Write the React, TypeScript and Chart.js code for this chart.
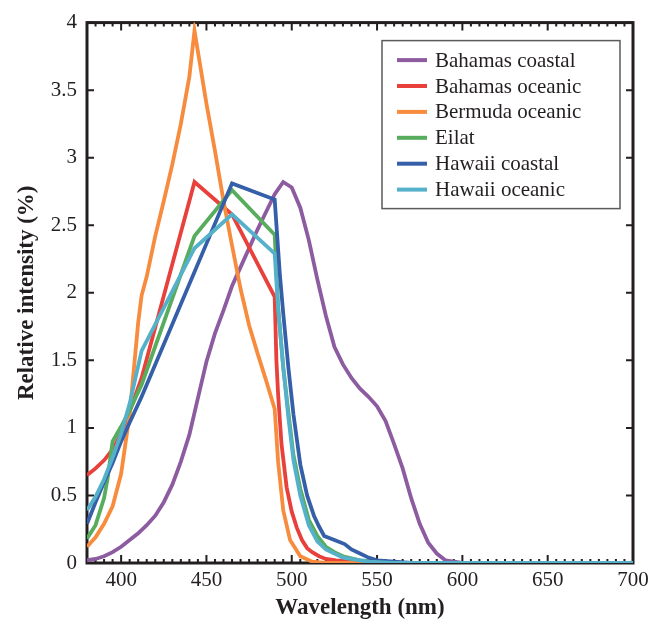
import React, { useEffect, useRef } from 'react';
import { Chart, registerables } from 'chart.js';

Chart.register(...registerables);

const FONT = "'Liberation Serif', 'Times New Roman', Times, serif";
const INK = '#231f20';

const seriesNames = ['Bahamas coastal', 'Bahamas oceanic', 'Bermuda oceanic', 'Eilat', 'Hawaii coastal', 'Hawaii oceanic'];
const seriesColors = ['#8d5ba0', '#e8403a', '#f78b3e', '#57ad5d', '#355fa9', '#55b1c9'];

const xTickValues = [400, 450, 500, 550, 600, 650, 700];
const yTickValues = [0, 0.5, 1, 1.5, 2, 2.5, 3, 3.5, 4];

const bahamasCoastalNm = [380, 385, 390, 395, 400, 405, 410, 415, 420, 425, 430, 435, 440, 445, 450, 455, 460, 465, 470, 475, 480, 485, 490, 495, 500, 505, 510, 515, 520, 525, 530, 535, 540, 545, 550, 555, 560, 565, 570, 575, 580, 585, 590, 595, 600, 700];
const bahamasCoastalVal = [0.02, 0.03, 0.05, 0.08, 0.12, 0.17, 0.22, 0.28, 0.35, 0.45, 0.58, 0.75, 0.95, 1.22, 1.49, 1.7, 1.87, 2.05, 2.19, 2.33, 2.47, 2.6, 2.73, 2.82, 2.78, 2.63, 2.39, 2.1, 1.83, 1.6, 1.47, 1.37, 1.29, 1.23, 1.16, 1.05, 0.88, 0.7, 0.48, 0.29, 0.15, 0.07, 0.02, 0.01, 0, 0];

const bahamasOceanicNm = [380, 385, 390, 395, 400, 405, 412, 443, 465, 490, 491, 492, 494, 497, 500, 503, 506, 509, 512, 516, 520, 526, 535, 550, 700];
const bahamasOceanicVal = [0.65, 0.7, 0.76, 0.84, 0.96, 1.12, 1.37, 2.82, 2.58, 1.97, 1.5, 1.25, 0.88, 0.56, 0.38, 0.26, 0.17, 0.11, 0.08, 0.05, 0.03, 0.02, 0.01, 0, 0];

const bermudaOceanicNm = [380, 385, 390, 395, 400, 405, 410, 412, 415, 420, 425, 430, 435, 440, 443, 450, 455, 460, 465, 470, 475, 480, 485, 490, 492, 495, 499, 505, 512, 520, 700];
const bermudaOceanicVal = [0.12, 0.19, 0.29, 0.42, 0.66, 1.1, 1.78, 1.98, 2.12, 2.42, 2.68, 2.95, 3.25, 3.6, 3.94, 3.4, 3.05, 2.68, 2.35, 2.03, 1.76, 1.55, 1.35, 1.14, 0.75, 0.39, 0.17, 0.05, 0.01, 0, 0];

const eilatNm = [380, 385, 390, 392, 395, 400, 405, 412, 443, 465, 490, 492, 495, 498, 501, 505, 510, 515, 520, 525, 530, 540, 550, 560, 700];
const eilatVal = [0.18, 0.28, 0.48, 0.62, 0.9, 1.01, 1.13, 1.32, 2.42, 2.76, 2.43, 1.9, 1.45, 1.12, 0.8, 0.55, 0.32, 0.2, 0.12, 0.08, 0.05, 0.02, 0.01, 0, 0];

const hawaiiCoastalNm = [380, 385, 390, 395, 400, 405, 412, 465, 490, 493, 495, 498, 501, 505, 509, 513, 516, 519, 525, 531, 535, 540, 545, 550, 560, 570, 700];
const hawaiiCoastalVal = [0.29, 0.45, 0.6, 0.74, 0.9, 1.04, 1.23, 2.81, 2.69, 2.14, 1.85, 1.45, 1.1, 0.73, 0.5, 0.35, 0.27, 0.2, 0.17, 0.14, 0.1, 0.07, 0.04, 0.02, 0.01, 0, 0];

const hawaiiOceanicNm = [380, 385, 390, 395, 400, 405, 412, 443, 465, 490, 492, 495, 498, 501, 505, 510, 515, 520, 530, 545, 560, 700];
const hawaiiOceanicVal = [0.39, 0.49, 0.62, 0.78, 0.96, 1.18, 1.57, 2.33, 2.58, 2.29, 1.88, 1.45, 1.08, 0.76, 0.5, 0.28, 0.16, 0.1, 0.04, 0.01, 0, 0];

const seriesNm = [bahamasCoastalNm, bahamasOceanicNm, bermudaOceanicNm, eilatNm, hawaiiCoastalNm, hawaiiOceanicNm];
const seriesVal = [bahamasCoastalVal, bahamasOceanicVal, bermudaOceanicVal, eilatVal, hawaiiCoastalVal, hawaiiOceanicVal];

const toPoints = (nm: number[], val: number[]) => nm.map((x, i) => ({ x, y: val[i] }));

const frameTicksPlugin = {
  id: 'frameTicks',
  beforeDatasetsDraw(chart: any) {
    const { ctx, chartArea: a, scales } = chart;
    const xs = scales.x;
    const ys = scales.y;
    ctx.save();
    ctx.strokeStyle = INK;
    ctx.lineWidth = 2;
    ctx.beginPath();
    for (let v = 380; v <= 700; v += 5) {
      const px = xs.getPixelForValue(v);
      const len = xTickValues.includes(v) ? 8 : 4;
      ctx.moveTo(px, a.bottom);
      ctx.lineTo(px, a.bottom - len);
      ctx.moveTo(px, a.top);
      ctx.lineTo(px, a.top + len);
    }
    for (const v of yTickValues) {
      const py = ys.getPixelForValue(v);
      ctx.moveTo(a.left, py);
      ctx.lineTo(a.left + 7, py);
      ctx.moveTo(a.right, py);
      ctx.lineTo(a.right - 7, py);
    }
    ctx.stroke();
    ctx.lineWidth = 3;
    ctx.strokeRect(a.left, a.top, a.right - a.left, a.bottom - a.top);
    ctx.restore();
  },
};

const boxLegendPlugin = {
  id: 'boxLegend',
  afterDraw(chart: any) {
    const { ctx, chartArea: a } = chart;
    const left = a.right - 251;
    const top = a.top + 18;
    const w = 238;
    const h = 168;
    ctx.save();
    ctx.fillStyle = '#ffffff';
    ctx.fillRect(left, top, w, h);
    ctx.strokeStyle = '#5a5a5a';
    ctx.lineWidth = 1.5;
    ctx.strokeRect(left, top, w, h);
    ctx.font = `21px ${FONT}`;
    ctx.textBaseline = 'middle';
    ctx.textAlign = 'left';
    chart.data.datasets.forEach((ds: any, i: number) => {
      const cy = top + 19.5 + i * 25.9;
      ctx.strokeStyle = ds.borderColor;
      ctx.lineWidth = 4;
      ctx.beginPath();
      ctx.moveTo(left + 15, cy);
      ctx.lineTo(left + 45, cy);
      ctx.stroke();
      ctx.fillStyle = INK;
      ctx.fillText(ds.label, left + 53, cy + 1);
    });
    ctx.restore();
  },
};

export default function App() {
  const canvasRef = useRef<HTMLCanvasElement | null>(null);

  useEffect(() => {
    const canvas = canvasRef.current;
    if (!canvas) return;
    const chart = new Chart(canvas, {
      type: 'line',
      data: {
        datasets: seriesNames.map((name, i) => ({
          label: name,
          data: toPoints(seriesNm[i], seriesVal[i]),
          borderColor: seriesColors[i],
          backgroundColor: seriesColors[i],
          borderWidth: 3.8,
          pointRadius: 0,
          tension: 0,
          fill: false,
          order: seriesNames.length - i,
        })),
      },
      options: {
        responsive: false,
        animation: false,
        devicePixelRatio: 1,
        parsing: false,
        layout: { padding: { top: 15, right: 29, left: 0, bottom: 0 } },
        plugins: {
          legend: { display: false },
          tooltip: { enabled: false },
        },
        scales: {
          x: {
            type: 'linear',
            min: 380,
            max: 700,
            afterBuildTicks: (s: any) => {
              s.ticks = xTickValues.map((v) => ({ value: v }));
            },
            afterFit: (s: any) => {
              s.height = 67;
            },
            grid: { display: false, drawTicks: false },
            border: { display: false },
            ticks: {
              font: { family: FONT, size: 21 },
              color: INK,
              padding: 5,
              maxRotation: 0,
              autoSkip: false,
              callback: (v: any) => String(v),
            },
            title: {
              display: true,
              text: 'Wavelength (nm)',
              font: { family: FONT, size: 23, weight: 'bold' },
              color: INK,
              padding: { top: 0, bottom: 8 },
            },
          },
          y: {
            type: 'linear',
            min: 0,
            max: 4,
            afterBuildTicks: (s: any) => {
              s.ticks = yTickValues.map((v) => ({ value: v }));
            },
            afterFit: (s: any) => {
              s.width = 87;
            },
            grid: { display: false, drawTicks: false },
            border: { display: false },
            ticks: {
              font: { family: FONT, size: 21 },
              color: INK,
              padding: 10,
              autoSkip: false,
              callback: (v: any) => String(v),
            },
            title: {
              display: true,
              text: 'Relative intensity (%)',
              font: { family: FONT, size: 23, weight: 'bold' },
              color: INK,
              padding: { top: 13, bottom: 0 },
            },
          },
        },
      } as any,
      plugins: [frameTicksPlugin, boxLegendPlugin],
    });
    return () => chart.destroy();
  }, []);

  return (
    <div style={{ position: 'absolute', left: 0, top: 0, width: 662, height: 630, background: '#fff' }}>
      <canvas ref={canvasRef} width={662} height={630} style={{ display: 'block', width: 662, height: 630 }} />
    </div>
  );
}
